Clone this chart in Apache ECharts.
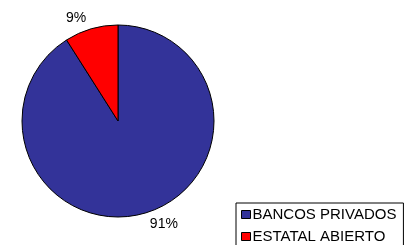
<!DOCTYPE html>
<html>
<head>
<meta charset="utf-8">
<script src="https://cdn.jsdelivr.net/npm/echarts@6/dist/echarts.min.js"></script>
<style>
html,body{margin:0;padding:0;background:#fff;}
#chart{width:408px;height:245px;}
</style>
</head>
<body>
<div id="chart"></div>
<script>
var categories = ['BANCOS PRIVADOS', 'ESTATAL ABIERTO'];
var values = [91, 9];
var colors = ['#333399', '#FF0000'];

var chart = echarts.init(document.getElementById('chart'), null, {renderer: 'canvas'});
var data = categories.map(function (c, i) {
  return {name: c, value: values[i], itemStyle: {color: colors[i]}};
});
chart.setOption({
  animation: false,
  legend: {
    orient: 'vertical',
    left: 236,
    top: 203,
    height: 80,
    padding: [4, 7, 20, 5],
    borderColor: '#000',
    borderWidth: 1,
    borderRadius: 0,
    itemWidth: 9,
    itemHeight: 8,
    itemGap: 7,
    icon: 'rect',
    itemStyle: {borderColor: '#000', borderWidth: 1},
    textStyle: {fontFamily: 'Liberation Sans, Arial, sans-serif', fontSize: 15, color: '#000', lineHeight: 14, padding: [0, 0, 0, -3]},
    data: categories
  },
  series: [{
    type: 'pie',
    center: [118, 121],
    radius: 96,
    startAngle: 90,
    clockwise: true,
    data: data,
    itemStyle: {borderColor: '#000', borderWidth: 1},
    emphasis: {disabled: true},
    label: {
      show: true,
      position: 'outside',
      formatter: function (p) { return p.value + '%'; },
      fontFamily: 'Liberation Sans, Arial, sans-serif',
      fontSize: 14,
      color: '#000'
    },
    labelLine: {show: false, length: 11, length2: -3}
  }]
});
</script>
</body>
</html>
